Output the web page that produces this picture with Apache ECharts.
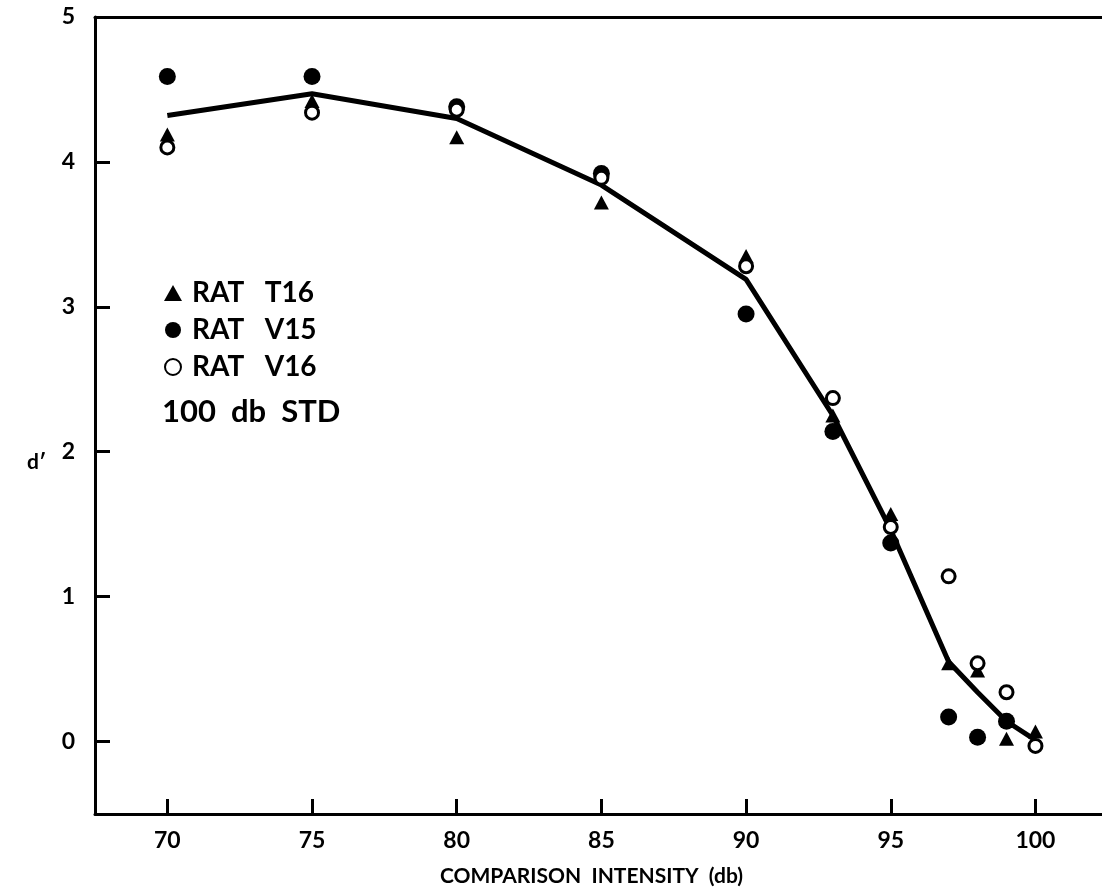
<!DOCTYPE html>
<html>
<head>
<meta charset="utf-8">
<script src="https://cdn.jsdelivr.net/npm/echarts@6/dist/echarts.min.js"></script>
<style>
  html, body { margin: 0; padding: 0; background: #fff; }
  #chart { width: 1102px; height: 892px; }
</style>
</head>
<body>
<div id="chart"></div>
<script>
// intensitas pembanding (db)
const intensities = [70, 75, 80, 85, 90, 93, 95, 97, 98, 99, 100];
// nilai d' tiap tikus
const ratT16 = [4.19, 4.42, 4.17, 3.72, 3.35, 2.25, 1.57, 0.54, 0.49, 0.02, 0.07];
const ratV15 = [4.59, 4.59, 4.38, 3.92, 2.95, 2.14, 1.37, 0.17, 0.03, 0.14, null];
const ratV16 = [4.10, 4.34, 4.36, 3.89, 3.28, 2.37, 1.48, 1.14, 0.54, 0.34, -0.03];
// garis rata-rata
const meanLine = [4.32, 4.47, 4.30, 3.84, 3.19, 2.25, 1.46, 0.55, 0.34, 0.14, 0.01];
const xTicks = [70, 75, 80, 85, 90, 95, 100];
const yTicks = [0, 1, 2, 3, 4, 5];

const FONT = 'Lato';
const pairs = (ys) => intensities.map((x, i) => [x, ys[i]]).filter(p => p[1] !== null);

const chart = echarts.init(document.getElementById('chart'));

const option = {
    animation: false,
    backgroundColor: '#fff',
    grid: { left: 95, right: 0, top: 17, bottom: 77 },
    legend: {
        orient: 'vertical',
        left: 159,
        top: 274,
        itemGap: 9,
        itemWidth: 18,
        itemHeight: 16,
        textStyle: { fontFamily: FONT, fontWeight: 'bold', fontSize: 28, color: '#000', padding: [0, 0, 0, 5] },
        data: ['RAT   T16', 'RAT   V15', 'RAT   V16']
    },
    graphic: [
        {
            type: 'text', left: 162, top: 396,
            style: { text: '100  db  STD', fontFamily: FONT, fontWeight: 'bold', fontSize: 31, fill: '#000' }
        },
        {
            type: 'text', left: 27, top: 452,
            style: { text: 'd′', fontFamily: FONT, fontWeight: 'bold', fontSize: 21, fill: '#000' }
        }
    ],
    xAxis: [
        {
            type: 'value',
            min: 67.5,
            max: 102.3,
            name: 'COMPARISON  INTENSITY  (db)',
            nameLocation: 'middle',
            nameGap: 52,
            nameTextStyle: { fontFamily: FONT, fontWeight: 'bold', fontSize: 21, color: '#000', padding: [0, 14, 0, 0] },
            splitLine: { show: false },
            axisLine: { onZero: false, lineStyle: { color: '#000', width: 3 } },
            axisTick: { inside: true, length: 15, lineStyle: { color: '#000', width: 3 }, customValues: xTicks },
            axisLabel: { customValues: xTicks, margin: 15, fontFamily: FONT, fontWeight: 'bold', fontSize: 23, color: '#000' }
        },
        {
            type: 'value',
            position: 'top',
            min: 67.5,
            max: 102.3,
            splitLine: { show: false },
            axisLine: { show: true, onZero: false, lineStyle: { color: '#000', width: 3 } },
            axisTick: { show: false },
            axisLabel: { show: false }
        }
    ],
    yAxis: {
        type: 'value',
        min: -0.5,
        max: 5,
        splitLine: { show: false },
        axisLine: { show: true, onZero: false, lineStyle: { color: '#000', width: 3 } },
        axisTick: { show: true, inside: true, length: 15, lineStyle: { color: '#000', width: 3 }, customValues: yTicks },
        axisLabel: { customValues: yTicks, margin: 20, fontFamily: FONT, fontWeight: 'bold', fontSize: 23, color: '#000' }
    },
    series: [
        {
            name: 'mean',
            type: 'line',
            data: pairs(meanLine),
            symbol: 'none',
            z: 1,
            lineStyle: { color: '#000', width: 5 }
        },
        {
            name: 'RAT   T16',
            type: 'scatter',
            data: pairs(ratT16),
            symbol: 'triangle',
            symbolSize: [15, 14],
            z: 3,
            itemStyle: { color: '#000', opacity: 1 }
        },
        {
            name: 'RAT   V15',
            type: 'scatter',
            data: pairs(ratV15),
            symbol: 'circle',
            symbolSize: 17,
            z: 3,
            itemStyle: { color: '#000', opacity: 1 }
        },
        {
            name: 'RAT   V16',
            type: 'scatter',
            data: pairs(ratV16),
            symbol: 'circle',
            symbolSize: 13,
            z: 4,
            itemStyle: { color: '#fff', borderColor: '#000', borderWidth: 3, opacity: 1 }
        }
    ]
};

chart.setOption(option);
window.addEventListener('resize', () => chart.resize());
</script>
</body>
</html>
